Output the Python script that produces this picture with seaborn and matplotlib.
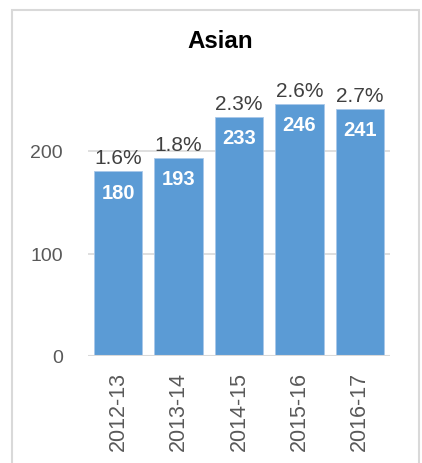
import matplotlib
matplotlib.use("Agg")
import matplotlib.pyplot as plt
import seaborn as sns
import pandas as pd
from matplotlib.patches import Rectangle

# Data
years = ["2012-13", "2013-14", "2014-15", "2015-16", "2016-17"]
counts = [180, 193, 233, 246, 241]
shares = ["1.6%", "1.8%", "2.3%", "2.6%", "2.7%"]
title = "Asian"

sns.set_theme(style="white")
plt.rcParams["font.family"] = ["Liberation Sans", "DejaVu Sans"]

DPI = 100
W, H = 422, 464
fig = plt.figure(figsize=(W / DPI, H / DPI), dpi=DPI)

# Light frame around the chart area
fig.patches.append(Rectangle((12 / W, -0.05), (419 - 12) / W, 1.05 - 11 / H,
                             transform=fig.transFigure, fill=False,
                             edgecolor="#d9d9d9", linewidth=1.5))

ax = fig.add_axes([88 / W, 107 / H, 302 / W, (357 - 49.5) / H])

df = pd.DataFrame({"year": years, "count": counts})
sns.barplot(data=df, x="year", y="count", color="#5B9BD5", saturation=1,
            width=0.8, edgecolor="#a9c8ea", linewidth=0.6, ax=ax, zorder=3)

ax.set_xlim(-0.5, len(years) - 0.5)
ax.set_ylim(0, 300)
ax.set_yticks([0, 100, 200])
ax.yaxis.grid(True, color="#d9d9d9", linewidth=1.2, zorder=0)
ax.set_axisbelow(True)
for s in ax.spines.values():
    s.set_visible(False)
ax.axhline(0, color="#d9d9d9", linewidth=1.5, zorder=4)

ax.set_xlabel("")
ax.set_ylabel("")
ax.tick_params(axis="y", length=0, pad=18, labelsize=14, labelcolor="#595959")
ax.tick_params(axis="x", length=0, pad=11, labelsize=15.5, labelcolor="#595959",
               labelrotation=90)

for i, (c, s) in enumerate(zip(counts, shares)):
    ax.annotate(str(c), (i, c), xytext=(0, -8), textcoords="offset points",
                ha="center", va="top", color="white", fontsize=14.5,
                fontweight="bold", zorder=5)
    ax.annotate(s, (i, c), xytext=(0, 6), textcoords="offset points",
                ha="center", va="baseline", color="#404040", fontsize=15,
                zorder=5, annotation_clip=False)

fig.text(220 / W, 1 - 48 / H, title, ha="center", va="baseline",
         fontsize=17.4, fontweight="bold", color="black")

fig.savefig("out.png", dpi=DPI, facecolor="white")
